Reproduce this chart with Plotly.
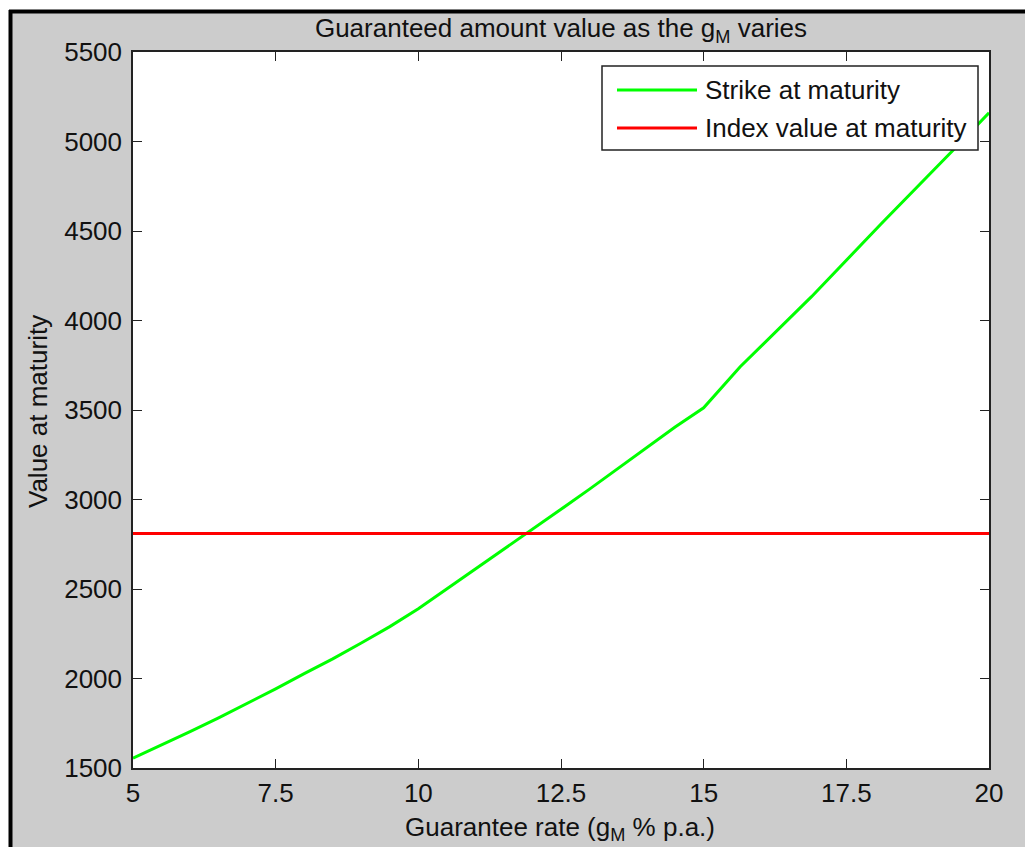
import plotly.graph_objects as go

# Guarantee rate g_M (% p.a.) and the resulting strike at maturity
rates = [5, 5.5, 6, 6.5, 7, 7.5, 8, 8.5, 9, 9.5, 10, 10.5, 11, 11.5, 12, 12.5,
         13, 13.5, 14, 14.5, 15, 15.64, 16.89, 18.12, 19.43, 20]
strike = [1555, 1628, 1703, 1780, 1860, 1942, 2027, 2110, 2198, 2290, 2390, 2500,
          2610, 2720, 2830, 2945, 3058, 3175, 3290, 3405, 3512, 3742, 4133, 4543,
          4971, 5160]

# Index level at maturity (flat across guarantee rates)
index_rate_span = [5, 20]
index_value = [2810, 2810]

x_ticks = [5, 7.5, 10, 12.5, 15, 17.5, 20]
x_tick_text = ["5", "7.5", "10", "12.5", "15", "17.5", "20"]
y_ticks = [1500, 2000, 2500, 3000, 3500, 4000, 4500, 5000, 5500]

legend_names = ["Strike at maturity", "Index value at maturity"]
colors = ["#00FF00", "#FF0000"]

W, H = 1025, 847
ML, MR, MT, MB = 133, 36, 52, 79
PW, PH = W - ML - MR, H - MT - MB
FONT = "Liberation Sans, Arial, sans-serif"
FS = 26
TXT = "#111111"


def px(xp):
    return (xp - ML) / PW


def py(yp):
    return (H - MB - yp) / PH


fig = go.Figure()
fig.add_trace(go.Scatter(x=rates, y=strike, mode="lines", name=legend_names[0],
                         line=dict(color=colors[0], width=3)))
fig.add_trace(go.Scatter(x=index_rate_span, y=index_value, mode="lines",
                         name=legend_names[1], line=dict(color=colors[1], width=3)))

axis_common = dict(showgrid=False, zeroline=False, showline=True, mirror="ticks",
                   linecolor="#222222", linewidth=1.5, ticks="inside", ticklen=9,
                   tickwidth=1.2, tickcolor="#222222",
                   tickfont=dict(family=FONT, size=FS, color=TXT))

fig.update_xaxes(range=[5, 20], tickvals=x_ticks, ticktext=x_tick_text,
                 ticklabelstandoff=1, **axis_common)
fig.update_yaxes(range=[1500, 5500], tickvals=y_ticks,
                 ticklabelstandoff=4, **axis_common)

shapes = [
    # white strips outside the window frame
    dict(type="rect", xref="paper", yref="paper", x0=px(0), x1=px(9), y0=py(H), y1=py(0),
         fillcolor="white", line=dict(width=0), layer="below"),
    dict(type="rect", xref="paper", yref="paper", x0=px(0), x1=px(W), y0=py(10), y1=py(0),
         fillcolor="white", line=dict(width=0), layer="below"),
    # black window frame edges
    dict(type="line", xref="paper", yref="paper", x0=px(10.5), x1=px(10.5), y0=py(H), y1=py(10),
         line=dict(color="black", width=4)),
    dict(type="line", xref="paper", yref="paper", x0=px(9), x1=px(W), y0=py(11.5), y1=py(11.5),
         line=dict(color="black", width=4)),
    # legend box
    dict(type="rect", xref="paper", yref="paper", x0=px(602), x1=px(978), y0=py(150), y1=py(66),
         fillcolor="white", line=dict(color="#222222", width=1.5)),
]
annotations = [
    dict(text="Guarantee rate (g<sub>M</sub> % p.a.)", xref="paper", yref="paper",
         x=px(560), y=py(828), xanchor="center", yanchor="middle", showarrow=False,
         font=dict(family=FONT, size=FS, color=TXT)),
    dict(text="Value at maturity", xref="paper", yref="paper", textangle=-90,
         x=px(38), y=py(412), xanchor="center", yanchor="middle", showarrow=False,
         font=dict(family=FONT, size=FS, color=TXT)),
]
for i, (name, col) in enumerate(zip(legend_names, colors)):
    yc = 90 + 38 * i
    shapes.append(dict(type="line", xref="paper", yref="paper", x0=px(617), x1=px(697),
                       y0=py(yc), y1=py(yc), line=dict(color=col, width=3)))
    annotations.append(dict(text=name, xref="paper", yref="paper", x=px(703), y=py(yc),
                            xanchor="left", yanchor="middle", showarrow=False,
                            font=dict(family=FONT, size=FS, color=TXT)))

fig.update_layout(
    width=W, height=H,
    margin=dict(l=ML, r=MR, t=MT, b=MB, pad=0),
    paper_bgcolor="#CCCCCC", plot_bgcolor="white",
    showlegend=False,
    title=dict(text="Guaranteed amount value as the g<sub>M</sub> varies",
               font=dict(family=FONT, size=FS, color=TXT),
               x=px(561), xanchor="center", xref="paper",
               y=1 - 28 / H, yanchor="middle", yref="container"),
    shapes=shapes, annotations=annotations,
)

fig.write_html("out.html")
